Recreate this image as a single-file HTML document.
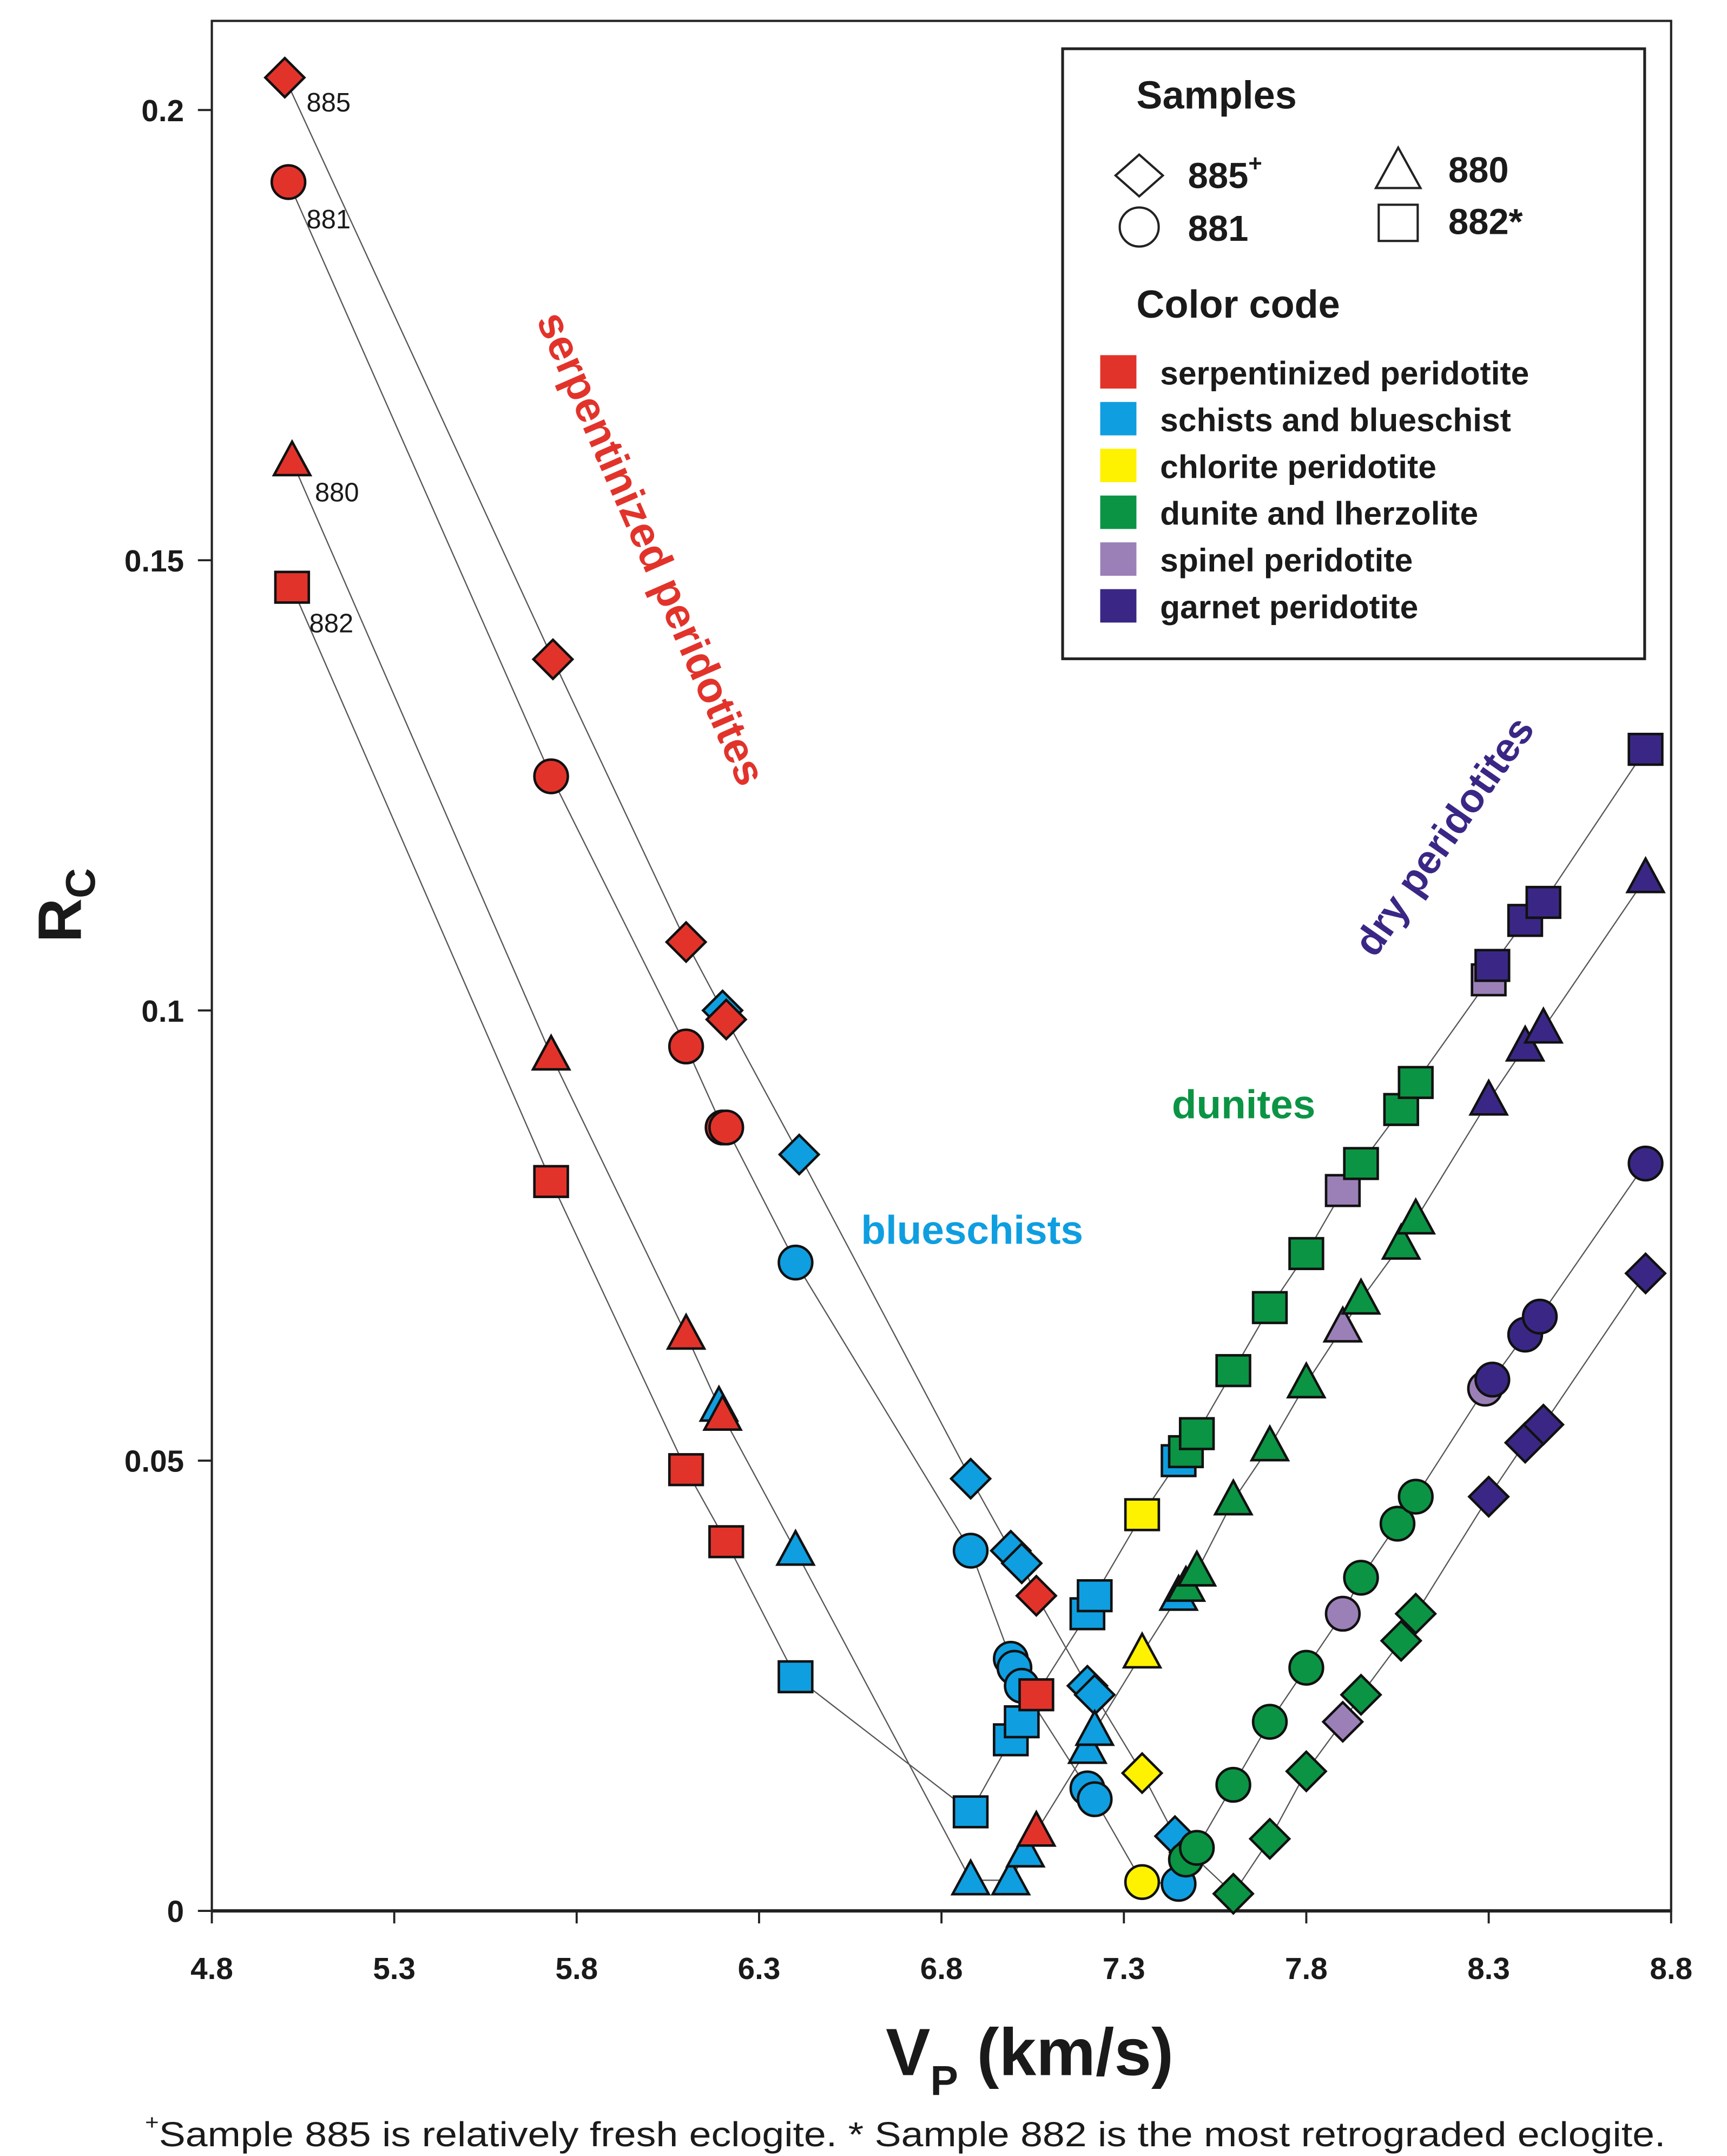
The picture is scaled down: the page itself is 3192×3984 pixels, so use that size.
<!DOCTYPE html>
<html><head><meta charset="utf-8"><style>
html,body{margin:0;padding:0;background:#fff}
svg{display:block}
text{font-family:"Liberation Sans","DejaVu Sans",sans-serif}
</style></head><body>
<svg id="chart" width="3192" height="3984" viewBox="0 0 1240 1548" xmlns="http://www.w3.org/2000/svg">
<rect x="0" y="0" width="1240" height="1548" fill="#fff"/>
<g id="axes"></g>
<g id="lines"></g>
<g id="marks"></g>
<g id="legend">
 <rect x="763" y="35" width="418" height="438" fill="#fff" stroke="#222" stroke-width="2"/>
 <text x="816" y="78" font-size="28" font-weight="bold" fill="#1a1a1a">Samples</text>
 <polygon points="818,111 835,126 818,141 801,126" fill="none" stroke="#222" stroke-width="1.6"/>
 <text x="853" y="135" font-size="26" font-weight="bold" fill="#1a1a1a">885<tspan font-size="17" dy="-12">+</tspan></text>
 <circle cx="818" cy="163" r="14" fill="none" stroke="#222" stroke-width="1.6"/>
 <text x="853" y="173" font-size="26" font-weight="bold" fill="#1a1a1a">881</text>
 <polygon points="1004,106 1020,135 988,135" fill="none" stroke="#222" stroke-width="1.6"/>
 <text x="1040" y="131" font-size="26" font-weight="bold" fill="#1a1a1a">880</text>
 <rect x="990" y="147" width="28" height="26" fill="none" stroke="#222" stroke-width="1.6"/>
 <text x="1040" y="168" font-size="26" font-weight="bold" fill="#1a1a1a">882*</text>
 <text x="816" y="228" font-size="28" font-weight="bold" fill="#1a1a1a">Color code</text>
</g>
<g id="annot">
 <text transform="translate(458,398) rotate(66.5)" text-anchor="middle" font-size="31" font-weight="bold" fill="#e2332b">serpentinized peridotites</text>
 <text transform="translate(1045,606) rotate(-55)" text-anchor="middle" font-size="29" font-weight="bold" fill="#3a2785">dry peridotites</text>
 <text x="893" y="803" text-anchor="middle" font-size="29" font-weight="bold" fill="#0b9444">dunites</text>
 <text x="698" y="893" text-anchor="middle" font-size="29" font-weight="bold" fill="#0f9ee0">blueschists</text>
 <text x="220" y="80" font-size="19" fill="#1a1a1a">885</text>
 <text x="220" y="164" font-size="19" fill="#1a1a1a">881</text>
 <text x="226" y="360" font-size="19" fill="#1a1a1a">880</text>
 <text x="222" y="454" font-size="19" fill="#1a1a1a">882</text>
 <text transform="translate(58,650) rotate(-90)" text-anchor="middle" font-size="44" font-weight="bold" fill="#1a1a1a">R<tspan font-size="30" dy="10">C</tspan></text>
 <text x="636" y="1490" font-size="48" font-weight="bold" fill="#1a1a1a">V<tspan font-size="30" dy="14">P</tspan><tspan dy="-14"> (km/s)</tspan></text>
 <text x="104" y="1541" font-size="25" fill="#1a1a1a" textLength="1092" lengthAdjust="spacingAndGlyphs"><tspan font-size="15" dy="-12">+</tspan><tspan dy="12">Sample 885 is relatively fresh eclogite. * Sample 882 is the most retrograded eclogite.</tspan></text>
</g>
</svg>
<script>
const categories = ["serpentinized peridotite","schists and blueschist","chlorite peridotite","dunite and lherzolite","spinel peridotite","garnet peridotite"];
const catColors = ["#e2332b","#0f9ee0","#fff200","#0b9444","#9b80b8","#3a2785"];
const xTicks = [4.8,5.3,5.8,6.3,6.8,7.3,7.8,8.3,8.8];
const xTickLabels = ["4.8","5.3","5.8","6.3","6.8","7.3","7.8","8.3","8.8"];
const yTicks = [0,0.05,0.1,0.15,0.2];
const yTickLabels = ["0","0.05","0.1","0.15","0.2"];
// category index per point: 0 red,1 blue,2 yellow,3 green,4 spinel,5 garnet
const x885 = [5.0,5.735,6.1,6.2,6.21,6.41,6.88,6.99,7.02,7.06,7.2,7.22,7.35,7.44,7.48,7.6,7.7,7.8,7.9,7.95,8.06,8.1,8.3,8.4,8.45,8.73];
const y885 = [0.2036,0.139,0.1076,0.100,0.099,0.084,0.048,0.040,0.0386,0.035,0.025,0.024,0.0153,0.0083,0.0065,0.0019,0.008,0.0155,0.021,0.024,0.030,0.033,0.046,0.052,0.054,0.0708];
const c885 = [0,0,0,1,0,1,1,1,1,0,1,1,2,1,3,3,3,3,4,3,3,3,5,5,5,5];
const x881 = [5.01,5.73,6.1,6.2,6.21,6.40,6.88,6.99,7.0,7.02,7.2,7.22,7.35,7.45,7.47,7.5,7.6,7.7,7.8,7.9,7.95,8.05,8.1,8.29,8.31,8.4,8.44,8.73];
const y881 = [0.192,0.126,0.096,0.087,0.087,0.072,0.040,0.028,0.027,0.025,0.0136,0.0124,0.0032,0.003,0.0057,0.007,0.014,0.021,0.027,0.033,0.037,0.043,0.046,0.058,0.059,0.064,0.066,0.083];
const c881 = [0,0,0,0,0,1,1,1,1,1,1,1,2,1,3,3,3,3,3,4,3,3,3,4,5,5,5,5];
const x880 = [5.02,5.73,6.1,6.19,6.2,6.4,6.88,6.99,7.03,7.06,7.2,7.22,7.35,7.45,7.47,7.5,7.6,7.7,7.8,7.9,7.95,8.06,8.1,8.3,8.4,8.45,8.73];
const y880 = [0.161,0.095,0.064,0.056,0.055,0.040,0.0034,0.0034,0.0065,0.0088,0.018,0.020,0.0286,0.035,0.036,0.0377,0.0456,0.0516,0.0586,0.0648,0.0679,0.074,0.0768,0.090,0.096,0.098,0.1147];
const c880 = [0,0,0,1,0,1,1,1,1,0,1,1,2,1,3,3,3,3,3,4,3,3,3,5,5,5,5];
const x882 = [5.02,5.73,6.1,6.21,6.4,6.88,6.99,7.02,7.06,7.2,7.22,7.35,7.45,7.47,7.5,7.6,7.7,7.8,7.9,7.95,8.06,8.1,8.3,8.31,8.4,8.45,8.73];
const y882 = [0.147,0.081,0.049,0.041,0.026,0.011,0.019,0.021,0.024,0.033,0.035,0.044,0.050,0.051,0.053,0.060,0.067,0.073,0.080,0.083,0.089,0.092,0.1034,0.105,0.110,0.112,0.129];
const c882 = [0,0,0,0,1,1,1,1,0,1,1,2,1,3,3,3,3,3,4,3,3,3,4,5,5,5,5];

const NS = "http://www.w3.org/2000/svg";
const X0 = 152, X1 = 1200, Y0 = 1372, YTOP = 15;
function xs(v){ return X0 + (v - 4.8) / 4.0 * (X1 - X0); }
function ys(v){ return Y0 - v / 0.2 * (Y0 - 79); }
function mk(tag, attrs, parent){ const e = document.createElementNS(NS, tag); for (const k in attrs) e.setAttribute(k, attrs[k]); parent.appendChild(e); return e; }

const axes = document.getElementById('axes');
const frame = mk('rect', {x:X0, y:YTOP, width:X1-X0, height:Y0-YTOP, fill:'none', stroke:'#222', 'stroke-width':1.6}, axes);


const xl = mk('line', {x1:X0, y1:Y0, x2:X1, y2:Y0, stroke:'#222', 'stroke-width':2.4}, axes);


xTicks.forEach((t, i) => {
  const tk = mk('line', {x1:xs(t), y1:Y0, x2:xs(t), y2:Y0+9, stroke:'#222', 'stroke-width':1.5}, axes);
  
  
  const lb = mk('text', {x:xs(t), y:Y0+49, 'text-anchor':'middle', 'font-size':22, 'font-weight':'bold', fill:'#1a1a1a'}, axes);
  lb.textContent = xTickLabels[i];
  
  
});
yTicks.forEach((t, i) => {
  const tk = mk('line', {x1:X0-10, y1:ys(t), x2:X0, y2:ys(t), stroke:'#222', 'stroke-width':1.5}, axes);
  
  
  const lb = mk('text', {x:X0-20, y:ys(t)+8, 'text-anchor':'end', 'font-size':22, 'font-weight':'bold', fill:'#1a1a1a'}, axes);
  lb.textContent = yTickLabels[i];
  
  
});

const series = [
  {name:'885', xv:x885, yv:y885, cv:c885, shape:'diamond'},
  {name:'881', xv:x881, yv:y881, cv:c881, shape:'circle'},
  {name:'880', xv:x880, yv:y880, cv:c880, shape:'triangle'},
  {name:'882', xv:x882, yv:y882, cv:c882, shape:'square'}
];
const linesG = document.getElementById('lines');
const marksG = document.getElementById('marks');
series.forEach(s => {
  const pts = s.xv.map((x, i) => xs(x).toFixed(1) + ',' + ys(s.yv[i]).toFixed(1)).join(' ');
  const pl = mk('polyline', {points:pts, fill:'none', stroke:'#555', 'stroke-width':0.9}, linesG);
  
  
});
series.forEach(s => {
  s.xv.forEach((x, i) => {
    const cx = xs(x), cy = ys(s.yv[i]);
    const fill = catColors[s.cv[i]];
    let el;
    const st = {fill:fill, stroke:'#111', 'stroke-width':1.8};
    if (s.shape === 'diamond') {
      el = mk('polygon', Object.assign({points:`${cx},${cy-14} ${cx+14},${cy} ${cx},${cy+14} ${cx-14},${cy}`}, st), marksG);
    } else if (s.shape === 'circle') {
      el = mk('circle', Object.assign({cx:cx, cy:cy, r:12}, st), marksG);
    } else if (s.shape === 'triangle') {
      el = mk('polygon', Object.assign({points:`${cx},${cy-14} ${cx+13},${cy+10} ${cx-13},${cy+10}`}, st), marksG);
    } else {
      el = mk('rect', Object.assign({x:cx-12, y:cy-11, width:24, height:22}, st), marksG);
    }
    
    
  });
});

const legend = document.getElementById('legend');
categories.forEach((c, i) => {
  const y = 255 + i * 33.6;
  const sw = mk('rect', {x:790, y:y, width:26, height:24, fill:catColors[i]}, legend);
  
  
  const t = mk('text', {x:833, y:y+21, 'font-size':23.5, 'font-weight':'bold', fill:'#1a1a1a'}, legend);
  t.textContent = c;
  
  
});
</script>
</body></html>
